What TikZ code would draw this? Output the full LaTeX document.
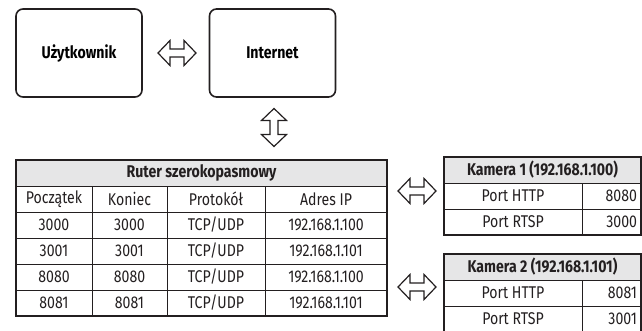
\documentclass[tikz,border=0pt]{standalone}
\usepackage{fontspec}
\setmainfont{Fira Sans}[FakeStretch=0.83]
\usepackage{tikz}
\usetikzlibrary{positioning}

\definecolor{ink}{HTML}{231F20}
\definecolor{headgray}{HTML}{E6E6E7}
\newcommand{\cellfont}{\fontsize{17}{19}\selectfont}
% hollow two-headed arrow: centre, angle
\newcommand{\hollowarrow}[2]{%
	\draw[arrowline, shift={#1}, rotate=#2]
		(-19,0) -- (-7,-12.5) -- (-7,-4) -- (7,-4) -- (7,-12.5) -- (19,0)
		-- (7,12.5) -- (7,4) -- (-7,4) -- (-7,12.5) -- cycle;}

\begin{document}
\begin{tikzpicture}[x=1pt, y=-1pt,
			boxnode/.style={rectangle, rounded corners=7pt, draw=ink, line width=1.6pt, minimum width=126pt, minimum height=88pt, font=\cellfont\bfseries},
			arrowline/.style={draw=ink, line width=1.2pt, fill=white, line join=miter},
			cell/.style={rectangle, draw=ink, line width=0.6pt, minimum height=26pt, inner sep=0pt, outer sep=0pt, text=ink, font=\cellfont},
			headcell/.style={cell, fill=headgray, font=\cellfont\bfseries},
			valcell/.style={cell, minimum width=59pt, text width=51pt, align=right},
			rim/.style={draw=ink, line width=1.4pt},
			]
			\useasboundingbox (0,0) rectangle (642,331);
			%Boxes
			\node[boxnode] (user) at (79,53)    {Użytkownik};
			\node[boxnode] (inet) at (272.5,53) {Internet};

			%Arrows
			\coordinate (userinet)   at (177,53);
			\coordinate (inetrouter) at (274,127.5);
			\coordinate (routercam1) at (417,191);
			\coordinate (routercam2) at (417,287);
			\hollowarrow{(userinet)}{0}
			\hollowarrow{(inetrouter)}{90}
			\hollowarrow{(routercam1)}{0}
			\hollowarrow{(routercam2)}{0}

			%Router table
			\node[headcell, minimum width=371pt, anchor=north west] (router) at (16,160) {Ruter szerokopasmowy};
			\node[cell, minimum width=76pt, anchor=north west] (pocz0) at (router.south west) {Początek};
			\node[cell, minimum width=75pt, right=0pt of pocz0]  (kon0)  {Koniec};
			\node[cell, minimum width=98pt, right=0pt of kon0]   (prot0) {Protokół};
			\node[cell, minimum width=122pt, right=0pt of prot0] (adr0)  {Adres IP};

			\node[cell, minimum width=76pt, below=0pt of pocz0]  (pocz1) {3000};
			\node[cell, minimum width=75pt, right=0pt of pocz1]  (kon1)  {3000};
			\node[cell, minimum width=98pt, right=0pt of kon1]   (prot1) {TCP/UDP};
			\node[cell, minimum width=122pt, right=0pt of prot1] (adr1)  {192.168.1.100};

			\node[cell, minimum width=76pt, below=0pt of pocz1]  (pocz2) {3001};
			\node[cell, minimum width=75pt, right=0pt of pocz2]  (kon2)  {3001};
			\node[cell, minimum width=98pt, right=0pt of kon2]   (prot2) {TCP/UDP};
			\node[cell, minimum width=122pt, right=0pt of prot2] (adr2)  {192.168.1.101};

			\node[cell, minimum width=76pt, below=0pt of pocz2]  (pocz3) {8080};
			\node[cell, minimum width=75pt, right=0pt of pocz3]  (kon3)  {8080};
			\node[cell, minimum width=98pt, right=0pt of kon3]   (prot3) {TCP/UDP};
			\node[cell, minimum width=122pt, right=0pt of prot3] (adr3)  {192.168.1.100};

			\node[cell, minimum width=76pt, below=0pt of pocz3]  (pocz4) {8081};
			\node[cell, minimum width=75pt, right=0pt of pocz4]  (kon4)  {8081};
			\node[cell, minimum width=98pt, right=0pt of kon4]   (prot4) {TCP/UDP};
			\node[cell, minimum width=122pt, right=0pt of prot4] (adr4)  {192.168.1.101};
			\draw[rim] (router.north west) rectangle (adr4.south east);

			%Camera tables
			\node[headcell, minimum width=197pt, anchor=north west] (cam1) at (444,157) {Kamera 1 (192.168.1.100)};
			\node[cell, minimum width=138pt, anchor=north west] (http1) at (cam1.south west) {Port HTTP};
			\node[valcell, right=0pt of http1] (httpval1) {8080};
			\node[cell, minimum width=138pt, below=0pt of http1] (rtsp1) {Port RTSP};
			\node[valcell, right=0pt of rtsp1] (rtspval1) {3000};
			\draw[rim] (cam1.north west) rectangle (rtspval1.south east);

			\node[headcell, minimum width=197pt, anchor=north west] (cam2) at (444,254) {Kamera 2 (192.168.1.101)};
			\node[cell, minimum width=138pt, anchor=north west] (http2) at (cam2.south west) {Port HTTP};
			\node[valcell, right=0pt of http2] (httpval2) {8081};
			\node[cell, minimum width=138pt, below=0pt of http2] (rtsp2) {Port RTSP};
			\node[valcell, right=0pt of rtsp2] (rtspval2) {3001};
			\draw[rim] (cam2.north west) rectangle (rtspval2.south east);
		\end{tikzpicture}
\end{document}
